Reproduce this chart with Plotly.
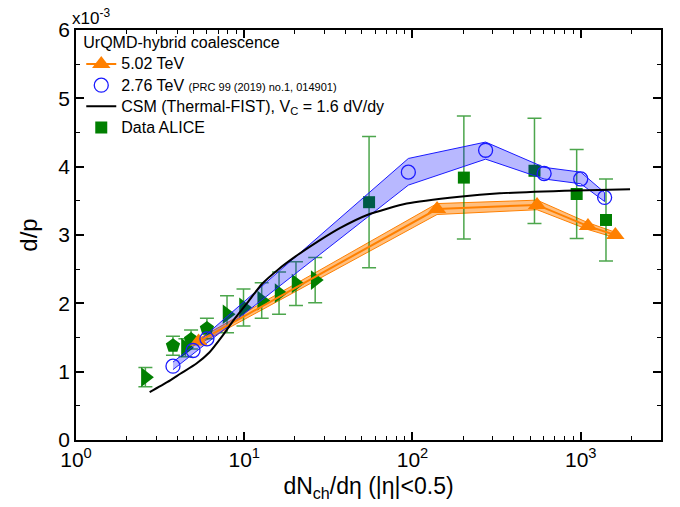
import numpy as np
import plotly.graph_objects as go

# ---------------- data (d/p in units of 1e-3) ----------------
# UrQMD-hybrid coalescence 5.02 TeV
orange_x = [5.35, 140, 550, 1104, 1606]
orange_y = [1.44, 3.38, 3.44, 3.13, 3.00]
orange_lo = [1.40, 3.30, 3.37, 3.08, 2.96]
orange_hi = [1.48, 3.46, 3.51, 3.18, 3.04]

# UrQMD-hybrid coalescence 2.76 TeV
blue_x = [3.77, 4.96, 6.0, 94.5, 272, 606, 1000, 1387]
blue_y = [1.08, 1.31, 1.48, 3.92, 4.24, 3.90, 3.82, 3.55]
blue_lo = [1.03, 1.25, 1.41, 3.73, 4.11, 3.82, 3.75, 3.49]
blue_hi = [1.14, 1.37, 1.55, 4.12, 4.36, 3.99, 3.92, 3.62]

# CSM (Thermal-FIST)
csm_x = [2.74, 3.5, 4.17, 5.2, 6.2, 7.4, 8.8, 10.6, 12.7, 16.0, 20.0, 27.6, 37, 54.7, 92.4, 190, 330, 944, 1964]
csm_y = [0.70, 0.85, 0.97, 1.12, 1.28, 1.52, 1.78, 2.03, 2.28, 2.50, 2.68, 2.91, 3.10, 3.30, 3.46, 3.56, 3.61, 3.65, 3.67]

# Data ALICE
pp_x = [2.585, 4.47, 7.9, 9.9, 12.7, 16.1, 20.3, 26.4]
pp_y = [0.92, 1.35, 1.84, 1.94, 2.04, 2.15, 2.29, 2.34]
pp_err = [0.14, 0.13, 0.27, 0.27, 0.26, 0.31, 0.32, 0.33]

ppb_x = [3.77, 4.83, 6.0]
ppb_y = [1.38, 1.47, 1.63]
ppb_err = [0.14, 0.14, 0.15]

pbpb_x = [55.2, 202, 531, 946, 1413]
pbpb_y = [3.48, 3.84, 3.94, 3.60, 3.22]
pbpb_err = [0.96, 0.90, 0.77, 0.65, 0.60]

x_ticks = [1, 10, 100, 1000]
x_ticktext = ["10<sup>0</sup>", "10<sup>1</sup>", "10<sup>2</sup>", "10<sup>3</sup>"]
y_ticks = [0, 1, 2, 3, 4, 5, 6]

# ---------------- styles ----------------
FONT = "Liberation Sans, Arial, sans-serif"
ORANGE = "#ff8000"
BLUE = "#1a1aff"
GREEN = "#007f00"
ERRG = "rgba(0,128,0,0.7)"


def big(t):
    return "<span style='font-size:16px'>" + t + "</span>"


fig = go.Figure()

# orange band
fig.add_trace(go.Scatter(
    x=orange_x + orange_x[::-1], y=orange_hi + orange_lo[::-1],
    fill="toself", fillcolor="rgba(255,128,0,0.5)",
    line=dict(color=ORANGE, width=1), mode="lines",
    showlegend=False, hoverinfo="skip"))

# ALICE data
err_style = dict(type="data", color=ERRG, thickness=1.5, width=7, visible=True)
fig.add_trace(go.Scatter(
    x=pp_x, y=pp_y, mode="markers",
    error_y=dict(array=pp_err, **err_style),
    marker=dict(symbol="triangle-right", size=17, color=GREEN),
    showlegend=False))
fig.add_trace(go.Scatter(
    x=ppb_x, y=ppb_y, mode="markers",
    error_y=dict(array=ppb_err, **err_style),
    marker=dict(symbol="pentagon", size=15, color=GREEN),
    showlegend=False))
fig.add_trace(go.Scatter(
    x=pbpb_x, y=pbpb_y, mode="markers",
    error_y=dict(array=pbpb_err, **err_style),
    marker=dict(symbol="square", size=12, color=GREEN),
    showlegend=False))

# blue band
fig.add_trace(go.Scatter(
    x=blue_x + blue_x[::-1], y=blue_hi + blue_lo[::-1],
    fill="toself", fillcolor="rgba(0,0,255,0.28)",
    line=dict(color=BLUE, width=1), mode="lines",
    showlegend=False, hoverinfo="skip"))

# legend-visible traces
fig.add_trace(go.Scatter(
    x=orange_x, y=orange_y, mode="lines+markers", name=big("5.02 TeV"),
    line=dict(color=ORANGE, width=2),
    marker=dict(symbol="triangle-up", size=16, color=ORANGE)))
fig.add_trace(go.Scatter(
    x=blue_x, y=blue_y, mode="markers",
    name=big("2.76 TeV ") + "<span style='font-size:11px'>(PRC 99 (2019) no.1, 014901)</span>",
    marker=dict(symbol="circle-open", size=14, color=BLUE, line=dict(width=1.3))))
fig.add_trace(go.Scatter(
    x=csm_x, y=csm_y, mode="lines", line_shape="spline",
    name=big("CSM (Thermal-FIST), V<sub>C</sub> = 1.6 dV/dy"),
    line=dict(color="black", width=2, smoothing=0.5)))
fig.add_trace(go.Scatter(
    x=[None], y=[None], mode="markers", name=big("Data ALICE"),
    marker=dict(symbol="square", size=12, color=GREEN)))

axis_common = dict(
    showline=True, linecolor="black", linewidth=1.5, mirror="ticks",
    ticks="inside", ticklen=8, tickwidth=1.5, tickcolor="black",
    showgrid=False, zeroline=False,
    tickfont=dict(family=FONT, size=21, color="black"),
)

fig.update_xaxes(
    type="log", range=[0, np.log10(3000)],
    tickvals=x_ticks, ticktext=x_ticktext,
    minor=dict(ticks="inside", ticklen=4, tickwidth=1.2, tickcolor="black",
               tickvals=[m * d for d in (1, 10, 100) for m in range(2, 10)] + [2000],
               showgrid=False),
    title=dict(text="dN<sub>ch</sub>/dη (|η|&lt;0.5)", font=dict(family=FONT, size=23, color="black"),
               standoff=8),
    **axis_common)
fig.update_yaxes(
    range=[0, 6], tickvals=y_ticks,
    minor=dict(ticks="inside", ticklen=4, tickwidth=1.2, tickcolor="black",
               tickvals=[0.5, 1.5, 2.5, 3.5, 4.5, 5.5], showgrid=False),
    title=dict(text="d/p", font=dict(family=FONT, size=24, color="black"), standoff=14),
    **axis_common)

fig.add_annotation(
    xref="paper", yref="paper", x=-0.01, y=1.0, xanchor="left", yanchor="bottom",
    text="x10<sup>-3</sup>", showarrow=False,
    font=dict(family=FONT, size=17, color="black"))

fig.update_layout(
    width=680, height=507,
    margin=dict(l=76, r=19, t=30, b=65),
    paper_bgcolor="white", plot_bgcolor="white",
    font=dict(family=FONT, color="black"),
    legend=dict(
        x=0.009, y=1.006, xanchor="left", yanchor="top",
        bgcolor="rgba(0,0,0,0)", borderwidth=0,
        font=dict(family=FONT, size=14, color="black"),
        title=dict(text="UrQMD-hybrid coalescence", font=dict(family=FONT, size=16, color="black")),
        tracegroupgap=0, itemwidth=30,
    ),
)

fig.write_html("out.html")
